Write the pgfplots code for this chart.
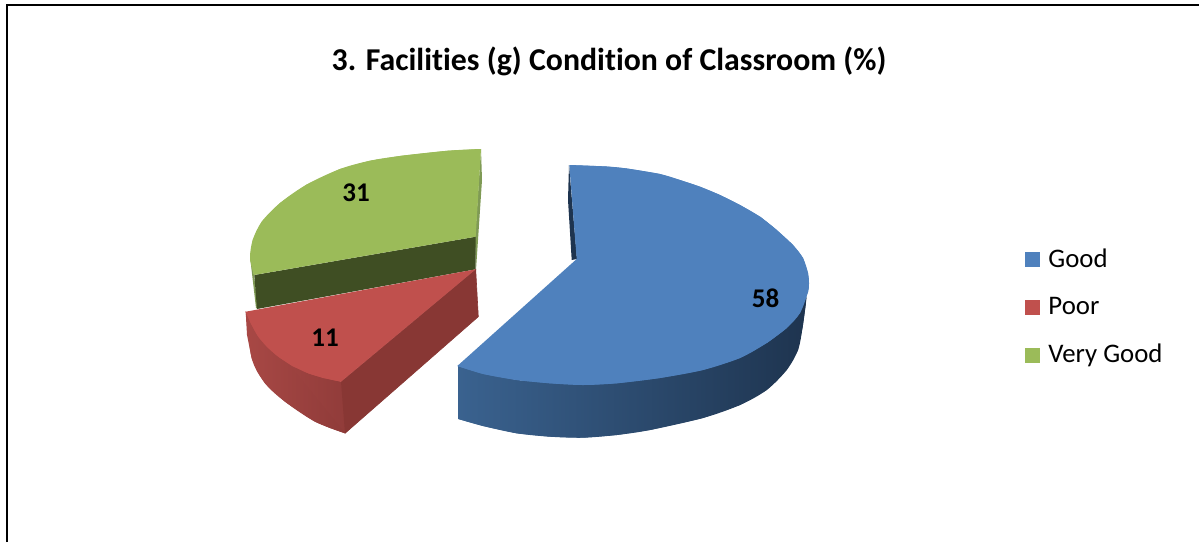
\documentclass[border=0pt]{standalone}
\usepackage{pgfplots}
\usepackage{fontspec}
\setmainfont[RawFeature={-liga}]{Carlito}
\pgfplotsset{compat=1.18}
\definecolor{bluetop}{HTML}{4F81BD}
\definecolor{redtop}{HTML}{C0504D}
\definecolor{greentop}{HTML}{9BBB59}
\definecolor{blueL}{HTML}{3A628F}
\definecolor{blueM}{HTML}{27425F}
\definecolor{blueD}{HTML}{1E344F}
\definecolor{redR}{HTML}{883734}
\definecolor{redL}{HTML}{A84845}
\definecolor{redD}{HTML}{8F3B39}
\definecolor{greenD}{HTML}{3F4E23}
\definecolor{greenE}{HTML}{7F9A55}
\begin{document}
\begin{tikzpicture}
\path[use as bounding box] (0,0) rectangle (599.5pt,271pt);
\begin{axis}[
  at={(0,0)},anchor=south west,
  scale only axis,width=599.5pt,height=271pt,
  xmin=0,xmax=1199,ymin=0,ymax=542,y dir=reverse,
  hide axis,clip=false,
  legend cell align=left,
  legend image code/.code={\fill[#1,draw=none] (0pt,-3.75pt) rectangle (7.5pt,3.75pt);\path[draw=none,fill=none] (0pt,0pt) -- (9.5pt,0pt);},
  legend style={at={(axis cs:1021,240)},anchor=north west,draw=none,fill=none,
    font=\fontsize{13.4}{15}\selectfont,row sep=9.5pt,inner sep=2pt,
    /tikz/column 2/.style={column sep=0pt}},
]
% green: inner strip, cut face, right edge, top face
\addplot[forget plot,draw=none,fill=greenE] coordinates {(481,149)(482,180)(478,240)(476,270)(475,240)};
\addplot[forget plot,draw=none,fill=greenE] coordinates {(250,255)(251,265)(256,308)(258,308)(254,275)};
\addplot[forget plot,draw=none,fill=greenD] coordinates {(254.3,275)(475.7,236.7)(475.7,269.3)(257,309)};
\addplot[forget plot,draw=none,fill=greentop] coordinates {(481,149)(448,150.7)(402,155.7)(370,160.7)(340,169)(306.7,184.5)(280,203)(261.7,221.7)(252.7,240)(250,258.3)(254,275)(475.7,236.7)};
\addplot[forget plot,draw=none,fill=greentop,smooth] coordinates {(481,149)(448,150.7)(402,155.7)(370,160.7)(340,169)(306.7,184.5)(280,203)(261.7,221.7)(252.7,240)(250,258.3)(254,275)};
% red
\addplot[forget plot,draw=none,left color=redL,right color=redD] coordinates {(245.7,311.7)(247,335)(251.7,358.3)(257,371)(265,383.3)(275,393)(285,401.7)(300,412)(315,421.7)(330,428)(345,433.3)(355,424)(355,372)(341,381.7)};
\addplot[forget plot,draw=none,left color=redL,right color=redD,smooth] coordinates {(245.7,311.7)(251.7,358.3)(265,383.3)(285,401.7)(315,421.7)(345,433.3)};
\addplot[forget plot,draw=redR,line width=0.3pt,fill=redR] coordinates {(341,381.7)(475.7,269.3)(478.3,316.7)(345,433.3)};
\addplot[forget plot,draw=none,fill=redtop] coordinates {(245.7,311.7)(475.7,269.3)(341,381.7)(323,378)(308.3,373.3)(292,366)(278.3,356.7)(267,347)(258.3,336.7)(251,324)};
\addplot[forget plot,draw=none,fill=redtop,smooth] coordinates {(341,381.7)(308.3,373.3)(278.3,356.7)(258.3,336.7)(245.7,311.7)};
% blue
\addplot[forget plot,draw=none,fill=blueD] coordinates {(569,165)(568,200)(571.7,260)(577,259)};
\addplot[forget plot,draw=none,left color=blueL,middle color=blueM,right color=blueD] coordinates {(458.3,366)(458.3,419)(483,426)(516.7,433.3)(550,436.7)(583,437.7)(616.7,435)(650,430)(703,418)(740,405)(766.7,390)(786.7,370)(798,350)(802.7,326.7)(806.7,297)(786.7,328)(740,358)(660,378)(583,385)(516.7,380)};
\addplot[forget plot,draw=none,left color=blueL,middle color=blueM,right color=blueD,smooth] coordinates {(458.3,419)(483,426)(516.7,433.3)(550,436.7)(583,437.7)(616.7,435)(650,430)(703,418)(740,405)(766.7,390)(786.7,370)(798,350)(802.7,326.7)(806.7,297)};
\addplot[forget plot,draw=none,fill=bluetop] coordinates {(569.3,165)(606.7,166.5)(627,168.5)(660,174)(680,180)(700,186.7)(720,195)(740,205)(760,216.7)(776.7,230)(793,245)(803,258)(808,273)(809,283)(808,292)(800,313)(786.7,328)(766.7,343)(740,358)(703,370)(660,378)(616.7,383.3)(583,385)(550,383.3)(516.7,380)(483.3,374)(457.3,366)(576.7,259)};
\addplot[forget plot,draw=none,fill=bluetop,smooth] coordinates {(569.3,165)(606.7,166.5)(627,168.5)(660,174)(680,180)(700,186.7)(720,195)(740,205)(760,216.7)(776.7,230)};
\addplot[forget plot,draw=none,fill=bluetop,smooth] coordinates {(760,216.7)(776.7,230)(793,245)(803,258)(808,273)(809,283)(808,292)(800,313)(786.7,328)(766.7,343)};
\addplot[forget plot,draw=none,fill=bluetop,smooth] coordinates {(786.7,328)(766.7,343)(740,358)(703,370)(660,378)(616.7,383.3)(583,385)(550,383.3)(516.7,380)(483.3,374)(457.3,366)};
% frame
\addplot[forget plot,draw=black,line width=1pt] coordinates {(6.9,542)(6.9,5.3)(1199,5.3)};
% legend
\addlegendimage{bluetop}\addlegendentry{Good}
\addlegendimage{redtop}\addlegendentry{Poor}
\addlegendimage{greentop}\addlegendentry{Very Good}
% texts
\node[font=\fontsize{15.9}{18}\selectfont\bfseries] at (axis cs:609,61) {3. Facilities (g) Condition of Classroom (\%)};
\node[font=\fontsize{13.5}{15}\selectfont\bfseries] at (axis cs:765.5,298) {58};
\node[font=\fontsize{13.5}{15}\selectfont\bfseries] at (axis cs:325,338) {11};
\node[font=\fontsize{13.5}{15}\selectfont\bfseries] at (axis cs:356,193) {31};
\end{axis}
\end{tikzpicture}
\end{document}
